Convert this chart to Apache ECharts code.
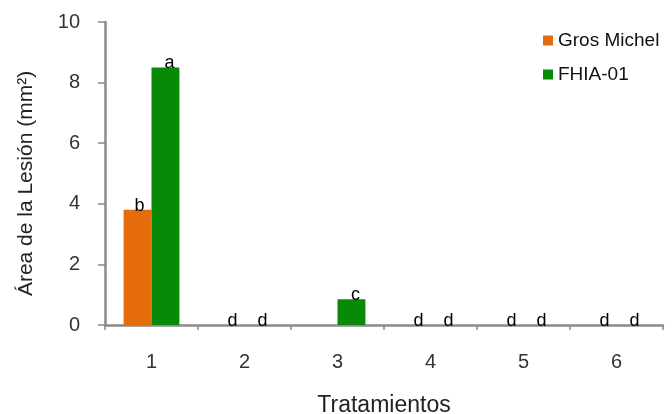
<!DOCTYPE html>
<html><head><meta charset="utf-8">
<script src="https://cdn.jsdelivr.net/npm/echarts@6/dist/echarts.min.js"></script>
<style>html,body{margin:0;padding:0;background:#fff}#c{width:672px;height:414px}</style>
</head><body><div id="c"></div>
<script>
const categories = ['1','2','3','4','5','6'];
const seriesNames = ['Gros Michel','FHIA-01'];
const grosMichel = [3.8, 0, 0, 0, 0, 0];
const fhia01 = [8.5, 0, 0.85, 0, 0, 0];
const grosLetters = ['b','d','','d','d','d'];
const fhiaLetters = ['a','d','c','d','d','d'];
const yTicks = [0, 2, 4, 6, 8, 10];

const font = 'Liberation Sans';
function mk(vals, letters) {
  return vals.map((v, i) => ({
    value: v,
    label: {show: letters[i] !== '', formatter: letters[i]}
  }));
}
const chart = echarts.init(document.getElementById('c'));
chart.setOption({
  animation: false,
  textStyle: {fontFamily: font},
  grid: {left: 105, right: 9, top: 22, bottom: 89, containLabel: false, outerBoundsMode: 'none'},
  legend: {
    orient: 'vertical', left: 538, top: 26, itemWidth: 10, itemHeight: 10, itemGap: 15,
    icon: 'rect',
    textStyle: {fontFamily: font, fontSize: 19, color: '#111'},
    data: seriesNames
  },
  xAxis: {
    type: 'category', data: categories,
    name: 'Tratamientos', nameLocation: 'middle', nameGap: 69,
    nameTextStyle: {fontFamily: font, fontSize: 23, color: '#222'},
    axisLine: {lineStyle: {color: '#8a8a8a', width: 2.5}},
    axisTick: {show: true, length: 5, lineStyle: {color: '#8a8a8a', width: 1.5}},
    axisLabel: {fontSize: 20, color: '#333', margin: 27, fontFamily: font}
  },
  yAxis: {
    type: 'value', min: 0, max: 10, interval: 2,
    name: 'Área de la Lesión (mm²)', nameLocation: 'middle', nameGap: 68,
    nameTextStyle: {fontFamily: font, fontSize: 21, color: '#222', padding: [0, 20, 0, 0]},
    axisLine: {show: true, lineStyle: {color: '#8a8a8a', width: 2.5}},
    axisTick: {show: true, length: 7, lineStyle: {color: '#8a8a8a', width: 1.5}},
    axisLabel: {fontSize: 20, color: '#333', margin: 25, fontFamily: font,
      formatter: v => yTicks.includes(v) ? String(v) : ''},
    splitLine: {show: false}
  },
  series: [
    {name: seriesNames[0], type: 'bar', data: mk(grosMichel, grosLetters),
     itemStyle: {color: '#E46C0A'}, barGap: 0, barCategoryGap: '40%',
     label: {show: true, position: 'top', distance: -5, offset: [2, 0], color: '#000', fontSize: 18, fontFamily: font}},
    {name: seriesNames[1], type: 'bar', data: mk(fhia01, fhiaLetters),
     itemStyle: {color: '#088A08'}, barGap: 0, barCategoryGap: '40%',
     label: {show: true, position: 'top', distance: -5, offset: [4, 0], color: '#000', fontSize: 18, fontFamily: font}}
  ]
});
</script></body></html>
